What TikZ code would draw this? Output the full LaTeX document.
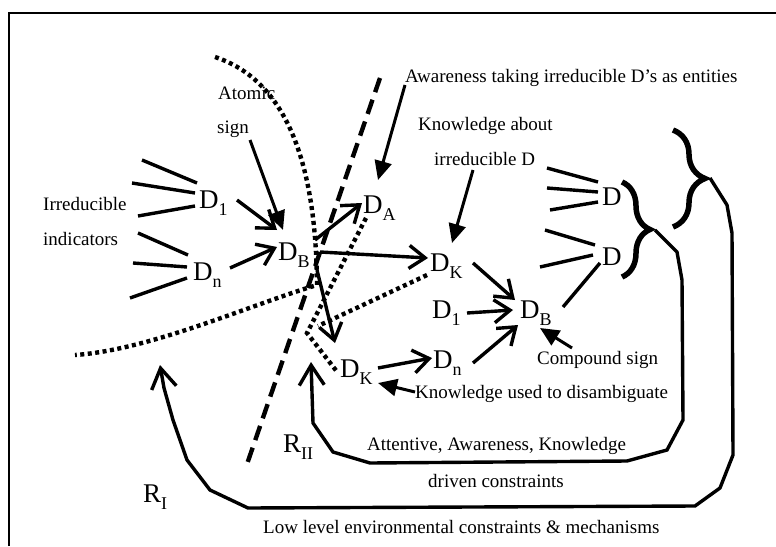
\documentclass[tikz,border=0pt]{standalone}
\usepackage{fontspec}
\setmainfont{Liberation Serif}
\usetikzlibrary{arrows.meta,decorations.pathreplacing}
% lowered, smaller index after a D or R
\newcommand{\dsub}[1]{\raisebox{-7pt}{\fontsize{18}{18}\selectfont #1}}
\begin{document}
\begin{tikzpicture}[x=1pt,y=-1pt,
  dnode/.style={inner sep=0pt, anchor=base west, font=\fontsize{27}{27}\selectfont},
  lbl/.style={inner sep=0pt, anchor=base west, font=\fontsize{19}{19}\selectfont},
  link/.style={line width=3.4pt},
  barb/.style={link, -{Straight Barb[length=16pt,width=23pt]}},
  ptr/.style={line width=3pt, -{Triangle[length=19pt,width=17pt]}},
  dots/.style={line width=4.4pt, dash pattern=on 4pt off 3.5pt},
  dashline/.style={line width=4.4pt, dash pattern=on 15pt off 8pt},
  bracket/.style={decorate, decoration={brace, amplitude=#1}, line width=5.5pt},
  loop/.style={line width=3.4pt, -{Straight Barb[length=20pt,width=25pt]}}
]
\useasboundingbox (0,0) rectangle (776,546);

% frame
\draw[line width=2.6pt] (9,546) -- (9,13) -- (776,13);

% signs
\node[dnode] (D1L) at (199,208) {D\dsub{1}};
\node[dnode] (DnL) at (193,280) {D\dsub{n}};
\node[dnode] (DBL) at (278,260) {D\dsub{B}};
\node[dnode] (DA)  at (363,213) {D\dsub{A}};
\node[dnode] (DK1) at (430,271) {D\dsub{K}};
\node[dnode] (DK2) at (340,377) {D\dsub{K}};
\node[dnode] (D1R) at (432,318) {D\dsub{1}};
\node[dnode] (DBR) at (520,318) {D\dsub{B}};
\node[dnode] (DnR) at (433,368) {D\dsub{n}};
\node[dnode] (DU)  at (602,205) {D};
\node[dnode] (DL)  at (602,265) {D};
\node[dnode] (R2)  at (283,452) {R\dsub{II}};
\node[dnode] (R1)  at (143,502) {R\dsub{I}};

% labels
\node[lbl] (atomic) at (218,99)  {Atomic};
\node[lbl] (sign)   at (217,133) {sign};
\node[lbl] (irr)    at (43,210)  {Irreducible};
\node[lbl] (ind)    at (43,245)  {indicators};
\node[lbl] (aware)  at (405,82)  {Awareness taking irreducible D’s as entities};
\node[lbl] (kab)    at (418,130) {Knowledge about};
\node[lbl] (irrD)   at (434,165) {irreducible D};
\node[lbl] (comp)   at (537,364) {Compound sign};
\node[lbl] (kused)  at (415,398) {Knowledge used to disambiguate};
\node[lbl] (att)    at (367,450) {Attentive, Awareness, Knowledge};
\node[lbl] (drv)    at (428,487) {driven constraints};
\node[lbl] (low)    at (263,533) {Low level environmental constraints \& mechanisms};

% boundary of the low level region
\draw[dots] (215,57) .. controls (285,80) and (316,160) .. (317,285)
            .. controls (250,305) and (150,350) .. (75,355);
% wedge of the knowledge signs
\coordinate (dv) at (307,333);
\coordinate (dj) at (318,326);
\draw[dots] ([shift={(3pt,-5pt)}]DA.base west) -- (dv) -- ([shift={(-2pt,4pt)}]DK2.base west);
\draw[dots] ([shift={(-3pt,-4pt)}]DK1.base west) -- (dj);
% attention boundary
\draw[dashline] (380,78) -- (246,467);

% indicator strokes
\coordinate (i11) at (142,160); \coordinate (i12) at (132,183); \coordinate (i13) at (138,216);
\coordinate (i21) at (138,233); \coordinate (i22) at (133,263); \coordinate (i23) at (130,298);
\coordinate (u1) at (547,168); \coordinate (u2) at (547,188); \coordinate (u3) at (550,210);
\coordinate (l1) at (545,230); \coordinate (l2) at (540,267);
\draw[link] (i11) -- ([shift={(-2pt,25pt)}]D1L.base west);
\draw[link] (i12) -- ([shift={(-4pt,15pt)}]D1L.base west);
\draw[link] (i13) -- ([shift={(-4pt,2pt)}]D1L.base west);
\draw[link] (i21) -- ([shift={(-5pt,25pt)}]DnL.base west);
\draw[link] (i22) -- ([shift={(-6pt,13pt)}]DnL.base west);
\draw[link] (i23) -- ([shift={(-6pt,2pt)}]DnL.base west);
\draw[link] (u1) -- ([shift={(-4pt,23pt)}]DU.base west);
\draw[link] (u2) -- ([shift={(-4pt,13pt)}]DU.base west);
\draw[link] (u3) -- ([shift={(-4pt,3pt)}]DU.base west);
\draw[link] (l1) -- ([shift={(-7pt,20pt)}]DL.base west);
\draw[link] (l2) -- ([shift={(-9pt,10pt)}]DL.base west);
\draw[link] ([shift={(43pt,11pt)}]DBR.base west) -- ([shift={(-2pt,2pt)}]DL.base west);

% sign arrows
\draw[barb] ([shift={(38pt,8pt)}]D1L.base west) -- ([shift={(-1pt,30pt)}]DBL.base west);
\draw[barb] ([shift={(37pt,12pt)}]DnL.base west) -- ([shift={(-1pt,13pt)}]DBL.base west);
\draw[barb] ([shift={(37pt,20pt)}]DBL.base west) -- ([shift={(-1pt,10pt)}]DA.base west);
\draw[barb] ([shift={(42pt,8pt)}]DBL.base west) -- ([shift={(-2pt,13pt)}]DK1.base west);
\draw[barb] ([shift={(39pt,-10pt)}]DBL.base west) -- ([shift={(-5pt,34pt)}]DK2.base west);
\draw[barb] ([shift={(43pt,8pt)}]DK1.base west) -- ([shift={(-5pt,18pt)}]DBR.base west);
\draw[barb] ([shift={(35pt,5pt)}]D1R.base west) -- ([shift={(-7pt,8pt)}]DBR.base west);
\draw[barb] ([shift={(40pt,5pt)}]DnR.base west) -- ([shift={(-2pt,-7pt)}]DBR.base west);
\draw[barb] ([shift={(38pt,9pt)}]DK2.base west) -- ([shift={(-1pt,10pt)}]DnR.base west);

% label pointers
\draw[ptr] ([shift={(33pt,-7pt)}]sign.base west) -- ([shift={(5pt,30pt)}]DBL.base west);
\draw[ptr] ([shift={(0pt,-3pt)}]aware.base west) -- ([shift={(15pt,33pt)}]DA.base west);
\draw[ptr] ([shift={(39pt,-5pt)}]irrD.base west) -- ([shift={(22pt,28pt)}]DK1.base west);
\draw[ptr] ([shift={(35pt,16pt)}]comp.base west) -- ([shift={(20pt,-10pt)}]DBR.base west);
\draw[ptr] ([shift={(0pt,6pt)}]kused.base west) -- ([shift={(38pt,-6pt)}]DK2.base west);

% groupings
\draw[bracket=28pt] (622,182) -- (622,277);
\draw[bracket=32pt] (673,130) -- (673,227);

% feedback loops
\coordinate (bt1) at (655,230);
\coordinate (bt2) at (710,178);
\coordinate (a2) at (311,362);
\coordinate (a1) at (160,365);
\draw[loop] (bt1) -- (677,252) -- (682,280) -- (683,420) -- (667,450) -- (627,461)
  -- (370,463) -- (333,452) -- (313,423) -- (a2);
\draw[loop] (bt2) -- (727,205) -- (732,233) -- (733,455) -- (720,488) -- (695,506)
  -- (248,508) -- (210,490) -- (187,460) -- (173,420) -- (164,388) -- (a1);
\end{tikzpicture}
\end{document}
